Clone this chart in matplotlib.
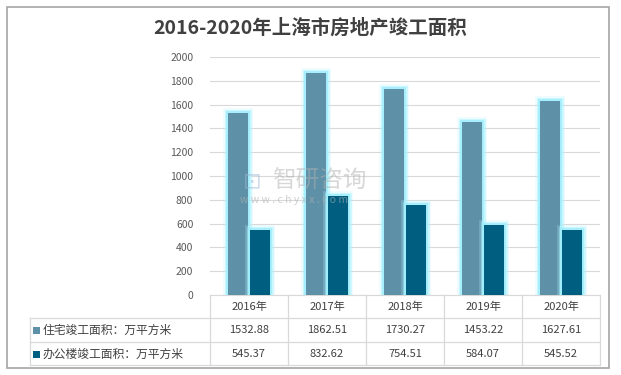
import matplotlib.pyplot as plt
import matplotlib.patheffects as pe
from matplotlib.lines import Line2D
from matplotlib.patches import Rectangle

plt.rcParams['font.family'] = ['Noto Sans CJK SC', 'DejaVu Sans']

years = ['2016年', '2017年', '2018年', '2019年', '2020年']
residential = [1532.88, 1862.51, 1730.27, 1453.22, 1627.61]
office = [545.37, 832.62, 754.51, 584.07, 545.52]
series_names = ['住宅竣工面积：万平方米', '办公楼竣工面积：万平方米']
colors = ['#5e91a8', '#005f80']

W, H = 621, 375
fig = plt.figure(figsize=(W / 100, H / 100), dpi=100)


def fx(px):
    return px / W


def fy(py):
    return 1 - py / H


# outer frame
fig.patches.append(Rectangle((fx(7), fy(368)), fx(602), 361 / H, transform=fig.transFigure,
                             fill=False, edgecolor='#a6a6a6', linewidth=1.2))

fig.text(fx(310), fy(28), '2016-2020年上海市房地产竣工面积', ha='center', va='center',
         fontsize=14, fontweight='bold', color='#404040')

# plot area
left, right, top, bottom = 210, 600, 57, 295
ax = fig.add_axes([fx(left), fy(bottom), fx(right - left), (bottom - top) / H])
x = range(len(years))
bw = 0.26
glow = [pe.Stroke(linewidth=7, foreground='#b8f5ff', alpha=0.25),
        pe.Stroke(linewidth=5, foreground='#a9f1ff', alpha=0.45),
        pe.Stroke(linewidth=3, foreground='#9eeefc', alpha=0.8),
        pe.Normal()]
b1 = ax.bar([i - 0.145 for i in x], residential, bw, color=colors[0], zorder=3)
b2 = ax.bar([i + 0.145 for i in x], office, bw, color=colors[1], zorder=3)
for b in list(b1) + list(b2):
    b.set_path_effects(glow)

ax.set_xlim(-0.5, 4.5)
ax.set_ylim(0, 2000)
ax.set_yticks(range(0, 2001, 200))
ax.yaxis.grid(True, color='#d9d9d9', linewidth=0.8, zorder=0)
ax.set_axisbelow(True)
ax.tick_params(axis='y', length=0, pad=12, labelsize=7.5, labelcolor='#595959')
ax.set_xticks([])
for s in ['top', 'right', 'left']:
    ax.spines[s].set_visible(False)
ax.spines['bottom'].set_color('#d9d9d9')

# watermark
fig.text(fx(252), fy(181), '⊡', ha='center', va='center', fontsize=16, color='#9fb8d6', alpha=0.5,
         family=['DejaVu Sans'])
fig.text(fx(272), fy(181), '智研咨询', ha='left', va='center', fontsize=17, color='#b0b0b0', alpha=0.5)
fig.text(fx(240), fy(200), 'w w w . c h y x x . c o m', ha='left', va='center', fontsize=7.5,
         color='#b0b0b0', alpha=0.6)

# data table
grid_c = '#d9d9d9'
cols = [210, 288, 366, 444, 522, 600]
rows = [295, 318, 342, 365]


def hline(y, x0, x1):
    fig.add_artist(Line2D([fx(x0), fx(x1)], [fy(y), fy(y)], color=grid_c, linewidth=0.9))


def vline(xp, y0, y1):
    fig.add_artist(Line2D([fx(xp), fx(xp)], [fy(y0), fy(y1)], color=grid_c, linewidth=0.9))


for r in rows[1:]:
    hline(r, 30, 600)
for c in cols:
    vline(c, 295, 365)
vline(30, 318, 365)

for i, yr in enumerate(years):
    cx = (cols[i] + cols[i + 1]) / 2
    fig.text(fx(cx), fy(307), yr, ha='center', va='center', fontsize=8, color='#404040')
    fig.text(fx(cx), fy(330), f'{residential[i]:.2f}', ha='center', va='center', fontsize=8, color='#404040')
    fig.text(fx(cx), fy(354), f'{office[i]:.2f}', ha='center', va='center', fontsize=8, color='#404040')

for j, (name, col) in enumerate(zip(series_names, colors)):
    yc = 330 + j * 24
    fig.patches.append(Rectangle((fx(33), fy(yc + 3.5)), fx(7), 7 / H, transform=fig.transFigure,
                                 facecolor=col, edgecolor='none'))
    fig.text(fx(43), fy(yc), name, ha='left', va='center', fontsize=8.5, color='#404040')

fig.savefig('out.png', dpi=100)
